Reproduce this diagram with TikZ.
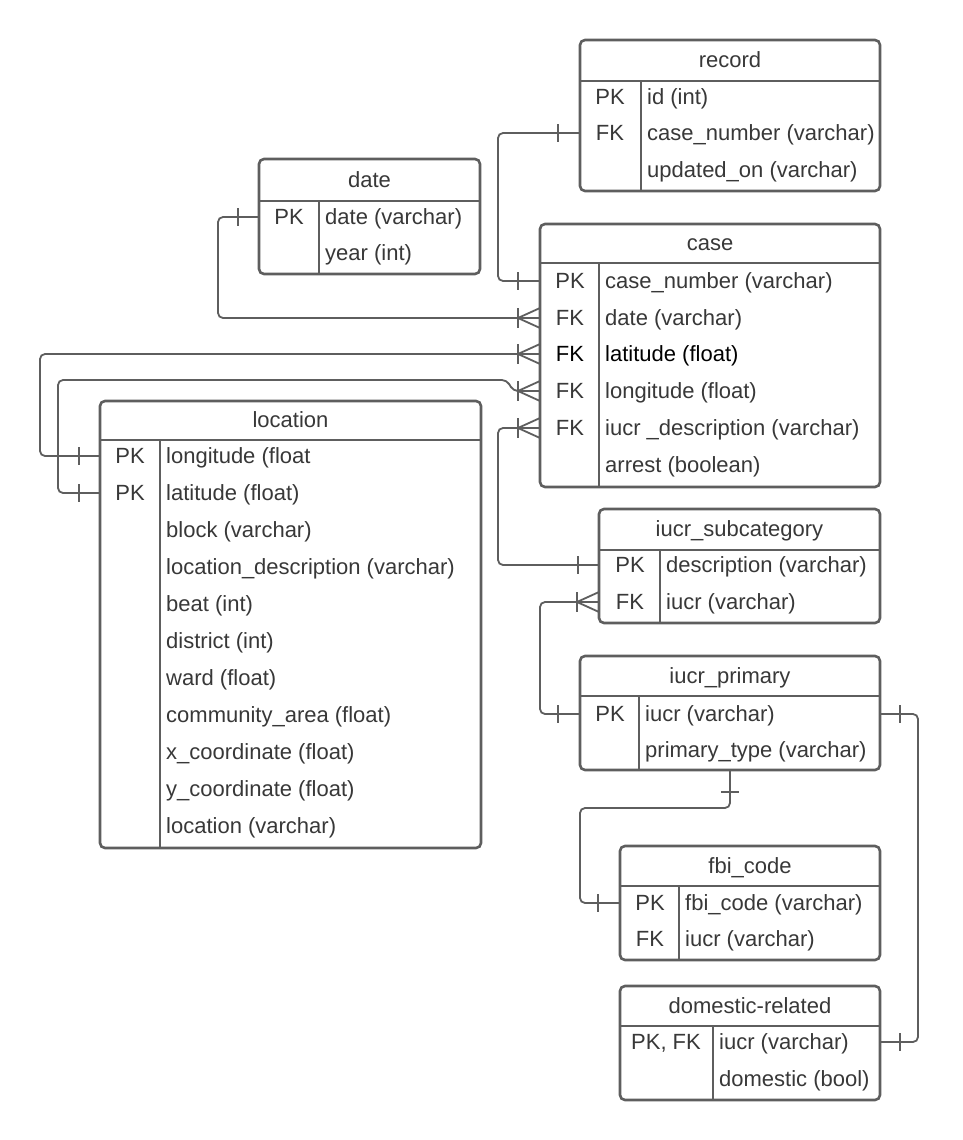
\documentclass[tikz,border=0pt]{standalone}
\usepackage{fontspec}
\setmainfont{Liberation Sans}
\usetikzlibrary{calc}
\definecolor{edge}{HTML}{5E5E5E}
\definecolor{ink}{HTML}{383838}

% table frame: name, title, x1, y1, x2, y2, header rule y, key column divider x
\newcommand\ertable[8]{%
  \node[tbl, minimum width={(#5-#3)*1pt}, minimum height={(#6-#4)*1pt}] (#1) at ({(#3+#5)/2},{(#4+#6)/2}) {};
  \draw[rule] (#3,#7) -- (#5,#7);
  \draw[rule] (#8,#7) -- (#8,#6);
  \node[txt, anchor=base] (#1-title) at ({(#3+#5)/2},{(#4+#7)/2+7}) {#2};
}
% row with key: name, key column centre x, field x, row y, key text, field text
\newcommand\errow[6]{%
  \coordinate (#1) at (#3,#4);
  \node[txt, anchor=base] (#1-key) at (#2,#4+7) {#5};
  \node[txt, anchor=base west] (#1-field) at (#3,#4+7) {#6};
}
% row without key: name, field x, row y, field text
\newcommand\erfield[4]{%
  \coordinate (#1) at (#2,#3);
  \node[txt, anchor=base west] (#1-field) at (#2,#3+7) {#4};
}
% "one" bar across a horizontal connector, dx from the given point
\newcommand\onebar[2]{\draw[tickln] ($#1+(#2,-9)$) -- ($#1+(#2,9)$);}
% "many" crow's foot ending at the left side of a table
\newcommand\crowfoot[1]{%
  \draw[tickln] ($#1+(-22,-10)$) -- ($#1+(-22,10)$);
  \draw[tickln] ($#1+(0,-10)$) -- ($#1+(-22,0)$) -- ($#1+(0,10)$);
}

\begin{document}
\begin{tikzpicture}[x=1pt,y=-1pt,
  tbl/.style={draw=edge, line width=2.6pt, rounded corners=5pt, inner sep=0pt, outer sep=0pt},
  rule/.style={draw=edge, line width=2.6pt},
  conn/.style={draw=edge, line width=1.8pt, rounded corners=5pt},
  tickln/.style={draw=edge, line width=1.8pt},
  txt/.style={text=ink, inner sep=0pt, font=\fontsize{22}{26}\selectfont}]

\useasboundingbox[fill=white] (0,0) rectangle (962,1140);

% record
\ertable{record}{record}{580}{40}{880}{191}{81}{641}
\errow{rec-r1}{610}{647}{97}{PK}{id (int)}
\errow{rec-r2}{610}{647}{133}{FK}{case\_number (varchar)}
\erfield{rec-r3}{647}{170}{updated\_on (varchar)}

% date
\ertable{date}{date}{259}{159}{480}{274}{201}{319}
\errow{date-r1}{289}{325}{217}{PK}{date (varchar)}
\erfield{date-r2}{325}{253}{year (int)}

% case
\ertable{case}{case}{540}{224}{880}{487}{263}{599}
\errow{case-r1}{570}{605}{281}{PK}{case\_number (varchar)}
\errow{case-r2}{570}{605}{318}{FK}{date (varchar)}
\begin{scope}[txt/.append style={text=black}]
\errow{case-r3}{570}{605}{354}{FK}{latitude (float)}
\end{scope}
\errow{case-r4}{570}{605}{391}{FK}{longitude (float)}
\errow{case-r5}{570}{605}{428}{FK}{iucr \_description (varchar)}
\erfield{case-r6}{605}{465}{arrest (boolean)}

% location
\ertable{location}{location}{100}{401}{481}{848}{440}{160}
\errow{loc-r1}{130}{166}{456}{PK}{longitude (float}
\errow{loc-r2}{130}{166}{493}{PK}{latitude (float)}
\erfield{loc-r3}{166}{530}{block (varchar)}
\erfield{loc-r4}{166}{567}{location\_description (varchar)}
\erfield{loc-r5}{166}{604}{beat (int)}
\erfield{loc-r6}{166}{641}{district (int)}
\erfield{loc-r7}{166}{678}{ward (float)}
\erfield{loc-r8}{166}{715}{community\_area (float)}
\erfield{loc-r9}{166}{752}{x\_coordinate (float)}
\erfield{loc-r10}{166}{789}{y\_coordinate (float)}
\erfield{loc-r11}{166}{826}{location (varchar)}

% iucr_subcategory
\ertable{subcat}{iucr\_subcategory}{599}{509}{880}{623}{550}{660}
\errow{sub-r1}{630}{666}{565}{PK}{description (varchar)}
\errow{sub-r2}{630}{666}{602}{FK}{iucr (varchar)}

% iucr_primary
\ertable{primary}{iucr\_primary}{580}{656}{880}{770}{696}{639}
\errow{pri-r1}{610}{645}{714}{PK}{iucr (varchar)}
\erfield{pri-r2}{645}{750}{primary\_type (varchar)}

% fbi_code
\ertable{fbi}{fbi\_code}{620}{846}{880}{960}{886}{679}
\errow{fbi-r1}{650}{685}{903}{PK}{fbi\_code (varchar)}
\errow{fbi-r2}{650}{685}{939}{FK}{iucr (varchar)}

% domestic-related
\ertable{domestic}{domestic-related}{620}{986}{880}{1100}{1026}{713}
\errow{dom-r1}{666}{719}{1042}{PK, FK}{iucr (varchar)}
\erfield{dom-r2}{719}{1079}{domestic (bool)}

% relationships
\draw[conn] (record.west |- rec-r2) -- ++(-82,0) |- (case.west |- case-r1);
\onebar{(record.west |- rec-r2)}{-22}
\onebar{(case.west |- case-r1)}{-22}

\draw[conn] (date.west |- date-r1) -- ++(-41,0) |- (case.west |- case-r2);
\onebar{(date.west |- date-r1)}{-21}
\crowfoot{(case.west |- case-r2)}

\draw[conn] (case.west |- case-r3) -- ++(-500,0) |- (location.west |- loc-r1);
\crowfoot{(case.west |- case-r3)}
\onebar{(location.west |- loc-r1)}{-21}

\draw[conn] (case.west |- case-r4) -- ++(-27,0) -- ++(-6,-11) -- ++(-449,0) |- (location.west |- loc-r2);
\crowfoot{(case.west |- case-r4)}
\onebar{(location.west |- loc-r2)}{-21}

\draw[conn] (case.west |- case-r5) -- ++(-42,0) |- (subcat.west |- sub-r1);
\crowfoot{(case.west |- case-r5)}
\onebar{(subcat.west |- sub-r1)}{-21}

\draw[conn] (subcat.west |- sub-r2) -- ++(-59,0) |- (primary.west |- pri-r1);
\crowfoot{(subcat.west |- sub-r2)}
\onebar{(primary.west |- pri-r1)}{-22}

\draw[conn] (primary.east |- pri-r1) -- ++(38,0) |- (domestic.east |- dom-r1);
\onebar{(primary.east |- pri-r1)}{20}
\onebar{(domestic.east |- dom-r1)}{20}

\draw[conn] (primary.south) -- ++(0,38) -- ++(-150,0) |- (fbi.west |- fbi-r1);
\draw[tickln] ($(primary.south)+(-9,22)$) -- ($(primary.south)+(9,22)$);
\onebar{(fbi.west |- fbi-r1)}{-22}

\end{tikzpicture}
\end{document}
